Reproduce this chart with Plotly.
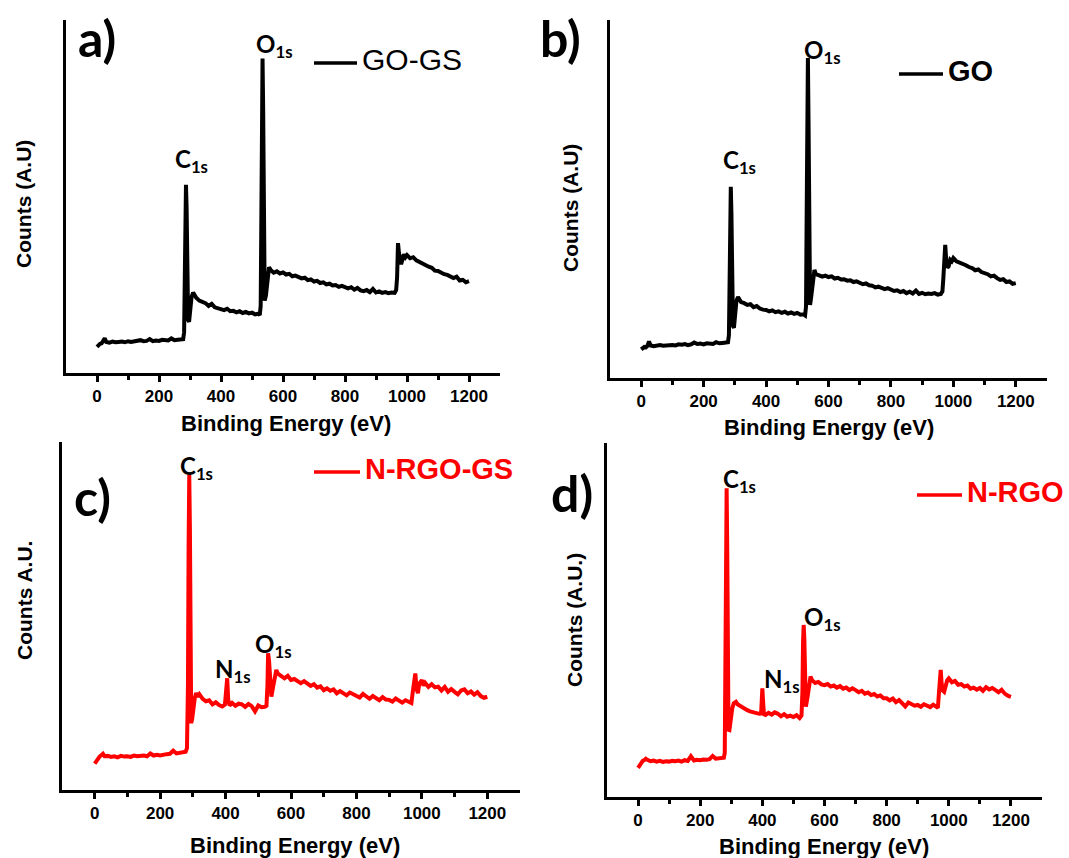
import plotly.graph_objects as go

W, H = 1069, 858

# ---- XPS survey spectra (binding energy in eV, counts in arbitrary units) ----
energy_go_gs = [0, 5, 10, 15, 20, 25, 30, 40, 50, 60, 70, 80, 90, 100, 110, 120, 130, 140, 150, 160,
                170, 180, 190, 200, 210, 220, 230, 240, 250, 260, 270, 278, 281, 283, 285, 287, 289, 291,
                294, 297, 301, 305, 310, 315, 320, 330, 340, 350, 360, 370, 380, 390, 400, 410, 420, 430,
                440, 450, 460, 470, 480, 490, 500, 510, 520, 525, 528, 530, 532, 534, 536, 538, 541, 545,
                550, 555, 560, 570, 580, 590, 600, 610, 620, 630, 640, 650, 660, 670, 680, 690, 700, 710,
                720, 730, 740, 750, 760, 770, 780, 790, 800, 810, 820, 830, 840, 850, 860, 870, 880, 890,
                900, 910, 920, 930, 940, 950, 960, 965, 968, 971, 974, 977, 981, 985, 990, 995, 1000, 1010,
                1020, 1030, 1040, 1050, 1060, 1070, 1080, 1090, 1100, 1110, 1120, 1130, 1140, 1150, 1160,
                1170, 1180, 1190, 1200]
counts_go_gs = [7.4, 8.0, 8.3, 8.4, 8.9, 9.8, 8.8, 8.6, 8.9, 8.7, 8.8, 8.9, 8.7, 9.0, 8.8, 8.9, 9.1, 9.3, 9.0, 9.1,
                9.6, 9.0, 9.2, 9.1, 9.4, 9.3, 9.2, 9.8, 9.3, 9.4, 9.5, 9.6, 11.5, 26.0, 45.0, 53.3, 47.0, 22.0,
                15.0, 14.5, 18.5, 21.5, 22.8, 21.9, 21.3, 20.5, 20.1, 19.8, 19.0, 19.6, 18.6, 18.4, 18.1, 17.8, 18.2, 17.5,
                17.6, 17.2, 17.5, 17.0, 17.3, 16.9, 17.1, 16.6, 16.8, 16.4, 19.0, 40.0, 80.0, 89.1, 75.0, 30.0, 20.5, 22.0,
                27.5, 30.0, 29.2, 28.4, 28.8, 28.2, 28.5, 27.9, 28.1, 27.4, 27.6, 27.1, 26.8, 27.0, 26.3, 26.5, 25.9, 26.1,
                25.5, 25.7, 25.1, 25.3, 24.8, 24.9, 24.4, 24.7, 24.2, 24.0, 24.3, 23.6, 24.1, 23.4, 23.2, 23.5, 22.9, 23.8,
                22.8, 23.1, 22.7, 22.9, 22.6, 22.8, 22.7, 23.5, 27.0, 36.8, 34.0, 31.5, 30.8, 32.0, 33.6, 32.8, 33.4, 32.5,
                32.8, 31.9, 31.4, 31.0, 30.4, 30.1, 29.8, 29.0, 28.9, 28.3, 28.0, 27.8, 27.2, 26.9, 27.3,
                26.2, 26.4, 25.7, 26.0]

energy_go = [0, 5, 10, 15, 20, 25, 30, 40, 50, 60, 70, 80, 90, 100, 110, 120, 130, 140, 150, 160,
             170, 180, 190, 200, 210, 220, 230, 240, 250, 260, 270, 278, 281, 283, 285, 287, 289, 291,
             294, 297, 301, 305, 310, 315, 320, 330, 340, 350, 360, 370, 380, 390, 400, 410, 420, 430,
             440, 450, 460, 470, 480, 490, 500, 510, 520, 525, 528, 530, 532, 534, 536, 538, 541, 545,
             550, 555, 560, 570, 580, 590, 600, 610, 620, 630, 640, 650, 660, 670, 680, 690, 700, 710,
             720, 730, 740, 750, 760, 770, 780, 790, 800, 810, 820, 830, 840, 850, 860, 870, 880, 890,
             900, 910, 920, 930, 940, 950, 960, 965, 968, 971, 974, 977, 981, 985, 990, 995, 1000, 1010,
             1020, 1030, 1040, 1050, 1060, 1070, 1080, 1090, 1100, 1110, 1120, 1130, 1140, 1150, 1160,
             1170, 1180, 1190, 1200]
counts_go = [8.0, 8.5, 8.7, 8.6, 9.0, 10.2, 9.1, 8.9, 9.0, 9.2, 9.0, 9.1, 9.3, 9.2, 9.1, 9.4, 9.3, 9.5, 9.2, 9.4,
             9.9, 9.5, 9.6, 9.4, 9.7, 9.6, 9.5, 10.0, 9.7, 9.8, 9.9, 10.0, 12.0, 24.0, 45.0, 53.4, 46.0, 20.0,
             14.5, 14.0, 19.0, 21.5, 22.6, 21.7, 21.2, 20.9, 20.4, 20.6, 19.8, 20.1, 19.4, 19.1, 19.0, 18.6, 18.9, 18.4,
             18.6, 18.2, 18.5, 18.0, 18.3, 17.9, 18.2, 17.7, 17.8, 17.5, 20.0, 45.0, 80.0, 89.4, 72.0, 28.0, 20.4, 23.0,
             28.0, 30.2, 29.0, 28.7, 28.3, 28.6, 28.2, 28.4, 27.8, 28.0, 27.5, 27.6, 27.2, 27.3, 26.8, 27.0, 26.6, 26.2,
             26.4, 25.9, 25.8, 25.3, 25.5, 25.0, 24.8, 25.1, 24.6, 24.3, 24.5, 24.0, 24.3, 23.7, 24.1, 23.6, 24.4, 23.5,
             23.8, 23.4, 23.6, 23.5, 23.7, 23.3, 23.5, 24.2, 28.0, 34.0, 37.2, 33.0, 30.8, 31.2, 33.0, 32.6, 33.5, 32.6,
             32.3, 31.8, 31.5, 31.0, 30.7, 30.1, 30.3, 29.6, 29.3, 29.0, 28.4, 28.6, 27.9, 27.4, 27.6,
             26.8, 27.0, 26.3, 26.5]

energy_nrgo_gs = [0, 5, 10, 15, 20, 25, 30, 40, 50, 60, 70, 80, 90, 100, 110, 120, 130, 140, 150, 160,
                  170, 180, 190, 200, 210, 220, 230, 240, 250, 260, 270, 278, 282, 285, 287, 289, 291, 293,
                  295, 298, 302, 306, 310, 315, 320, 330, 340, 350, 360, 370, 380, 390, 398, 402, 405, 408,
                  412, 420, 430, 440, 450, 460, 470, 480, 490, 500, 510, 520, 525, 528, 530, 533, 536, 540,
                  545, 550, 555, 560, 570, 580, 590, 600, 610, 620, 630, 640, 650, 660, 670, 680, 690, 700,
                  710, 720, 730, 740, 750, 760, 770, 780, 790, 800, 810, 820, 830, 840, 850, 860, 870, 880,
                  890, 900, 910, 920, 930, 940, 950, 960, 968, 972, 976, 980, 984, 988, 992, 997, 1000, 1005,
                  1010, 1020, 1030, 1040, 1050, 1060, 1070, 1080, 1090, 1100, 1110, 1120, 1130, 1140, 1150,
                  1160, 1170, 1180, 1190, 1200]
counts_nrgo_gs = [7.6, 8.4, 9.0, 9.6, 10.0, 10.4, 9.7, 9.8, 9.5, 9.7, 9.4, 9.8, 9.6, 9.7, 9.5, 9.9, 9.7, 9.8, 9.9, 9.7,
                  10.5, 9.9, 10.1, 9.9, 10.2, 10.3, 10.4, 11.3, 10.5, 10.7, 10.9, 11.0, 12.0, 30.0, 70.0, 90.5, 75.0, 30.0,
                  19.2, 20.5, 24.0, 26.5, 27.9, 26.8, 27.5, 26.2, 25.5, 25.8, 24.6, 25.2, 24.4, 24.0, 24.5, 29.0, 32.1, 26.0,
                  24.3, 25.0, 24.2, 24.8, 24.6, 23.9, 24.7, 24.1, 22.6, 24.3, 23.8, 23.9, 24.2, 30.0, 39.3, 37.0, 30.0, 26.8,
                  29.5, 33.0, 34.5, 33.4, 32.6, 32.1, 32.8, 31.6, 31.9, 31.2, 30.7, 31.3, 30.6, 29.9, 30.4, 29.4, 29.8, 28.7,
                  29.2, 28.5, 28.9, 27.8, 28.4, 27.9, 27.2, 28.0, 27.5, 27.3, 26.6, 27.6, 26.9, 26.2, 27.0, 26.4, 25.8, 26.7,
                  26.0, 25.9, 25.4, 26.3, 25.6, 25.1, 25.8, 25.4, 25.0, 28.0, 31.0, 33.5, 29.0, 27.8, 30.5, 31.0, 31.6, 30.0,
                  30.8, 29.6, 30.4, 29.5, 29.7, 28.6, 29.6, 28.2, 29.0, 28.2, 27.5, 28.6, 28.9, 27.8, 28.3,
                  27.4, 28.1, 27.0, 26.5, 26.8]

energy_nrgo = [0, 5, 10, 15, 20, 25, 30, 40, 50, 60, 70, 80, 90, 100, 110, 120, 130, 140, 150, 160,
               170, 180, 190, 200, 210, 220, 230, 240, 250, 260, 270, 276, 279, 281, 283, 285, 287, 289,
               291, 294, 298, 303, 308, 315, 320, 330, 340, 350, 360, 370, 380, 390, 396, 398, 400, 402,
               405, 410, 420, 430, 440, 450, 460, 470, 480, 490, 500, 510, 520, 526, 529, 531, 533, 535,
               537, 540, 545, 550, 555, 560, 570, 580, 590, 600, 610, 620, 630, 640, 650, 660, 670, 680,
               690, 700, 710, 720, 730, 740, 750, 760, 770, 780, 790, 800, 810, 820, 830, 840, 850, 860,
               870, 880, 890, 900, 910, 920, 930, 940, 950, 960, 965, 968, 971, 974, 977, 981, 985, 990,
               995, 1000, 1010, 1020, 1030, 1040, 1050, 1060, 1070, 1080, 1090, 1100, 1110, 1120, 1130,
               1140, 1150, 1160, 1170, 1180, 1190, 1200]
counts_nrgo = [8.2, 9.0, 9.8, 10.2, 10.4, 10.8, 10.5, 10.1, 10.3, 10.0, 10.2, 9.9, 10.1, 10.0, 10.2, 10.1, 10.3, 10.0, 10.4, 10.2,
               11.5, 10.3, 10.5, 10.4, 10.6, 10.5, 10.7, 11.6, 10.8, 10.9, 11.0, 11.1, 12.5, 30.0, 75.0, 87.2, 70.0, 30.0,
               19.0, 18.9, 22.0, 25.0, 26.5, 26.9, 26.2, 25.6, 25.0, 24.6, 24.2, 23.9, 23.7, 23.5, 23.6, 27.0, 30.7, 27.5,
               23.4, 23.2, 23.8, 23.3, 23.9, 23.5, 22.8, 23.4, 22.7, 23.0, 22.6, 23.1, 22.3, 23.0, 30.0, 44.0, 48.6, 45.0,
               32.0, 25.5, 28.0, 32.0, 34.0, 33.0, 32.2, 32.5, 31.8, 31.6, 31.9, 31.2, 31.5, 30.9, 31.3, 30.6, 30.9, 30.2,
               30.7, 30.2, 29.6, 30.0, 29.2, 29.5, 28.8, 29.1, 28.4, 28.7, 27.9, 27.9, 27.3, 27.8, 26.8, 27.4, 26.5, 25.6,
               26.7, 26.1, 25.8, 26.0, 25.5, 26.2, 25.8, 25.4, 26.1, 25.6, 25.2, 29.0, 33.0, 35.9, 32.0, 30.0, 29.7, 32.0,
               33.0, 33.5, 32.4, 32.8, 31.7, 31.9, 31.2, 31.5, 30.6, 30.9, 30.3, 30.8, 30.0, 31.0, 30.4,
               30.8, 30.2, 29.6, 30.3, 29.2, 28.6, 28.3]

x_ticks = [0, 200, 400, 600, 800, 1000, 1200]
x_minor_ticks = [100, 300, 500, 700, 900, 1100]
x_range = [-100, 1300]
y_range = [0, 100]

BLACK = "#000000"
RED = "#ff0000"


def px(x):
    return x / W


def py(y):
    return 1 - y / H


# panel frames in pixels: (left, right, top, bottom)
frames = [(66, 500, 20, 373), (610, 1047, 20, 378), (62, 520, 442, 790), (607, 1042, 443, 797)]

series = [
    ("GO-GS", energy_go_gs, counts_go_gs, BLACK),
    ("GO", energy_go, counts_go, BLACK),
    ("N-RGO-GS", energy_nrgo_gs, counts_nrgo_gs, RED),
    ("N-RGO", energy_nrgo, counts_nrgo, RED),
]

fig = go.Figure()
layout_axes = {}
TICKFONT = dict(family="Arial, Liberation Sans", size=17, color=BLACK, weight="bold")

for i, ((l, r, t, b), (name, xs, ys, col)) in enumerate(zip(frames, series)):
    n = "" if i == 0 else str(i + 1)
    fig.add_trace(go.Scatter(x=xs, y=ys, mode="lines", name=name,
                             line=dict(color=col, width=4), showlegend=False,
                             xaxis="x" + n, yaxis="y" + n))
    layout_axes["xaxis" + n] = dict(
        domain=[px(l), px(r)], range=x_range, anchor="y" + n,
        tickmode="array", tickvals=x_ticks, ticks="outside", ticklen=6, tickwidth=3,
        tickcolor=BLACK, showline=True, linewidth=3, linecolor=BLACK,
        showgrid=False, zeroline=False, tickfont=TICKFONT,
        minor=dict(tickmode="array", tickvals=x_minor_ticks,
                   ticks="outside", ticklen=4, tickwidth=3, tickcolor=BLACK, showgrid=False),
    )
    layout_axes["yaxis" + n] = dict(
        domain=[py(b), py(t)], range=y_range, anchor="x" + n,
        showticklabels=False, ticks="", showline=True, linewidth=3, linecolor=BLACK,
        showgrid=False, zeroline=False,
    )

annotations = []
shapes = []

# panel letters
for txt, (x, y) in zip(["a)", "b)", "c)", "d)"], [(97, 38), (560, 38), (92, 497), (572, 493)]):
    annotations.append(dict(text=txt, x=px(x), y=py(y), xref="paper", yref="paper",
                            xanchor="center", yanchor="middle", showarrow=False,
                            font=dict(family="Lato", size=50, color=BLACK, weight="bold")))

# peak assignments (left edge of main letter, vertical centre of main letter)
peaks = [
    ("C", 173, 156), ("O", 254, 41),
    ("C", 721, 157), ("O", 802, 47),
    ("C", 178, 464), ("N", 213, 666), ("O", 253, 641),
    ("C", 721, 476), ("N", 762, 676), ("O", 802, 614),
]
for el, x, y in peaks:
    annotations.append(dict(text=f"{el}<sub>1s</sub>", x=px(x), y=py(y + 4), xref="paper", yref="paper",
                            xanchor="left", yanchor="middle", showarrow=False,
                            font=dict(family="Lato", size=24, color=BLACK, weight="bold")))

# legend keys: line segment + sample name
legends = [
    (314, 357, 63, "GO-GS", BLACK, "normal", 30),
    (899, 943, 74, "GO", BLACK, "bold", 29),
    (314, 360, 472, "N-RGO-GS", RED, "bold", 29),
    (917, 962, 495, "N-RGO", RED, "bold", 29),
]
for x0, x1, y, name, col, wt, sz in legends:
    shapes.append(dict(type="line", xref="paper", yref="paper", x0=px(x0), x1=px(x1),
                       y0=py(y), y1=py(y), line=dict(color=col, width=3.5)))
    annotations.append(dict(text=name, x=px(x1 + 3), y=py(y - 3), xref="paper", yref="paper",
                            xanchor="left", yanchor="middle", showarrow=False,
                            font=dict(family="Arial, Liberation Sans", size=sz, color=col, weight=wt)))

# axis titles
AXFONT = dict(family="Arial, Liberation Sans", size=22, color=BLACK, weight="bold")
for x, y in [(286, 423), (829, 427), (295, 845), (824, 846)]:
    annotations.append(dict(text="Binding Energy (eV)", x=px(x), y=py(y), xref="paper", yref="paper",
                            xanchor="center", yanchor="middle", showarrow=False, font=AXFONT))
YTFONT = dict(family="Arial, Liberation Sans", size=21, color=BLACK, weight="bold")
for txt, x, y in [("Counts (A.U)", 24, 204), ("Counts (A.U)", 570, 208),
                  ("Counts A.U.", 24, 601), ("Counts (A.U.)", 574, 620)]:
    annotations.append(dict(text=txt, x=px(x), y=py(y), xref="paper", yref="paper",
                            xanchor="center", yanchor="middle", showarrow=False,
                            textangle=-90, font=YTFONT))

fig.update_layout(
    width=W, height=H, margin=dict(l=0, r=0, t=0, b=0),
    paper_bgcolor="white", plot_bgcolor="white",
    annotations=annotations, shapes=shapes, **layout_axes,
)

fig.write_html("out.html")
